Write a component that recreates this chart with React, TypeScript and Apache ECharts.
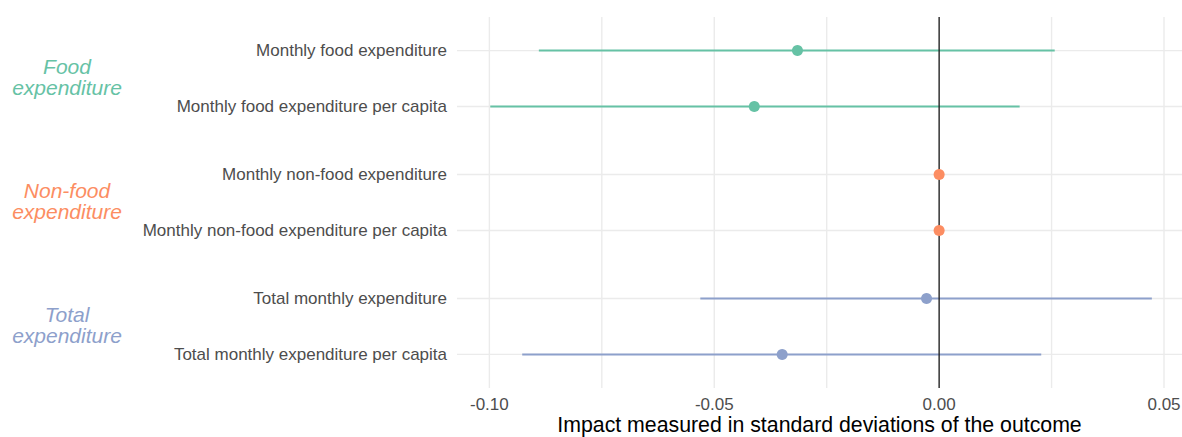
import React, { useEffect, useRef } from "react";
import * as echarts from "echarts";

const categories = [
  "Monthly food expenditure",
  "Monthly food expenditure per capita",
  "Monthly non-food expenditure",
  "Monthly non-food expenditure per capita",
  "Total monthly expenditure",
  "Total monthly expenditure per capita",
];
const rowGroup = [0, 0, 1, 1, 2, 2];
const groupLabels = ["Food\nexpenditure", "Non-food\nexpenditure", "Total\nexpenditure"];
const estimates = [-0.0315, -0.0411, 0.0, 0.0, -0.0028, -0.0349];
const lower = [-0.089, -0.0998, 0.0, 0.0, -0.0531, -0.0927];
const upper = [0.0257, 0.0179, 0.0, 0.0, 0.0473, 0.0227];
const xTicks = [-0.1, -0.05, 0, 0.05];
const xMinorGrid = [-0.075, -0.025, 0.025];

const groupColors = ["#66C2A5", "#FC8D62", "#8DA0CB"];
const GROUP_STEP = 68 / 56;
const W = 1182;
const H = 437;

export default function App() {
  const ref = useRef<HTMLDivElement>(null);
  useEffect(() => {
    if (!ref.current) return;
    const chart = echarts.init(ref.current, null, { renderer: "svg", width: W, height: H });
    const pos = categories.map((_, i) => rowGroup[i] * (1 + GROUP_STEP) + (i % 2));
    const labelByPos = (v: number) => {
      const i = pos.findIndex((p) => Math.abs(p - v) < 1e-6);
      return i >= 0 ? categories[i] : "";
    };
    const font = "'Liberation Sans', Arial, Helvetica, sans-serif";

    // gridline specs: [orientation (0 = vertical at x, 1 = horizontal at y), value]
    const gridSpecs: number[][] = [
      ...xTicks.map((x) => [0, x]),
      ...xMinorGrid.map((x) => [0, x]),
      ...pos.map((p) => [1, p]),
    ];

    const fullLine = (color: string, width: number) => (params: any, api: any) => {
      const cs = params.coordSys;
      const kind = api.value(0);
      const v = api.value(1);
      if (kind === 0) {
        const px = api.coord([v, 0])[0];
        return {
          type: "line",
          shape: { x1: px, y1: cs.y, x2: px, y2: cs.y + cs.height },
          style: { stroke: color, lineWidth: width },
        };
      }
      const py = api.coord([0, v])[1];
      return {
        type: "line",
        shape: { x1: cs.x, y1: py, x2: cs.x + cs.width, y2: py },
        style: { stroke: color, lineWidth: width },
      };
    };

    const option: any = {
      animation: false,
      textStyle: { fontFamily: font },
      grid: {
        left: 457,
        right: 0,
        top: 17,
        bottom: 49,
        containLabel: false,
        outerBoundsMode: "none",
      },
      xAxis: {
        type: "value",
        min: -0.1072,
        max: 0.054,
        axisLine: { show: false },
        axisTick: { show: false },
        splitLine: { show: false },
        axisLabel: {
          customValues: xTicks,
          formatter: (v: number) => v.toFixed(2),
          color: "#4D4D4D",
          fontSize: 17,
          lineHeight: 17,
          margin: 8,
          fontFamily: font,
        },
        name: "Impact measured in standard deviations of the outcome",
        nameLocation: "middle",
        nameMoveOverlap: false,
        nameGap: 26,
        nameTextStyle: {
          color: "#000000",
          fontSize: 21.3,
          lineHeight: 21,
          fontFamily: font,
          verticalAlign: "top",
        },
      },
      yAxis: {
        type: "value",
        inverse: true,
        min: -0.6,
        max: pos[pos.length - 1] + 0.6,
        axisLine: { show: false },
        axisTick: { show: false },
        splitLine: { show: false },
        axisLabel: {
          customValues: pos,
          formatter: (v: number) => labelByPos(v),
          color: "#4D4D4D",
          fontSize: 17,
          margin: 10,
          fontFamily: font,
        },
      },
      series: [
        {
          type: "custom",
          z: 0,
          silent: true,
          clip: false,
          data: gridSpecs,
          renderItem: fullLine("#EBEBEB", 1.4),
        },
        {
          type: "custom",
          z: 1,
          silent: true,
          data: categories.map((_, i) => [lower[i], upper[i], pos[i], rowGroup[i]]),
          renderItem: (params: any, api: any) => {
            const p1 = api.coord([api.value(0), api.value(2)]);
            const p2 = api.coord([api.value(1), api.value(2)]);
            return {
              type: "line",
              shape: { x1: p1[0], y1: p1[1], x2: p2[0], y2: p2[1] },
              style: { stroke: groupColors[api.value(3)], lineWidth: 2 },
            };
          },
        },
        {
          type: "custom",
          z: 2,
          silent: true,
          data: [[0, 0]],
          renderItem: fullLine("#1a1a1a", 1.3),
        },
        {
          type: "scatter",
          z: 3,
          symbolSize: 11,
          data: categories.map((_, i) => ({
            value: [estimates[i], pos[i]],
            itemStyle: { color: groupColors[rowGroup[i]], opacity: 1 },
          })),
        },
      ],
    };
    chart.setOption(option);

    const graphics = groupLabels.map((g, gi) => {
      const rows = pos.filter((_, i) => rowGroup[i] === gi);
      const mid = (rows[0] + rows[rows.length - 1]) / 2;
      const py = chart.convertToPixel({ yAxisIndex: 0 }, mid) as number;
      return {
        type: "text",
        x: 67,
        y: py - 1.5,
        style: {
          text: g,
          fill: groupColors[gi],
          font: `italic 21px ${font}`,
          align: "center",
          verticalAlign: "middle",
          lineHeight: 21,
        },
      };
    });
    chart.setOption({ graphic: graphics });

    return () => chart.dispose();
  }, []);
  return (
    <div
      ref={ref}
      style={{ position: "absolute", left: 0, top: 0, width: W, height: H, overflow: "hidden" }}
    />
  );
}
